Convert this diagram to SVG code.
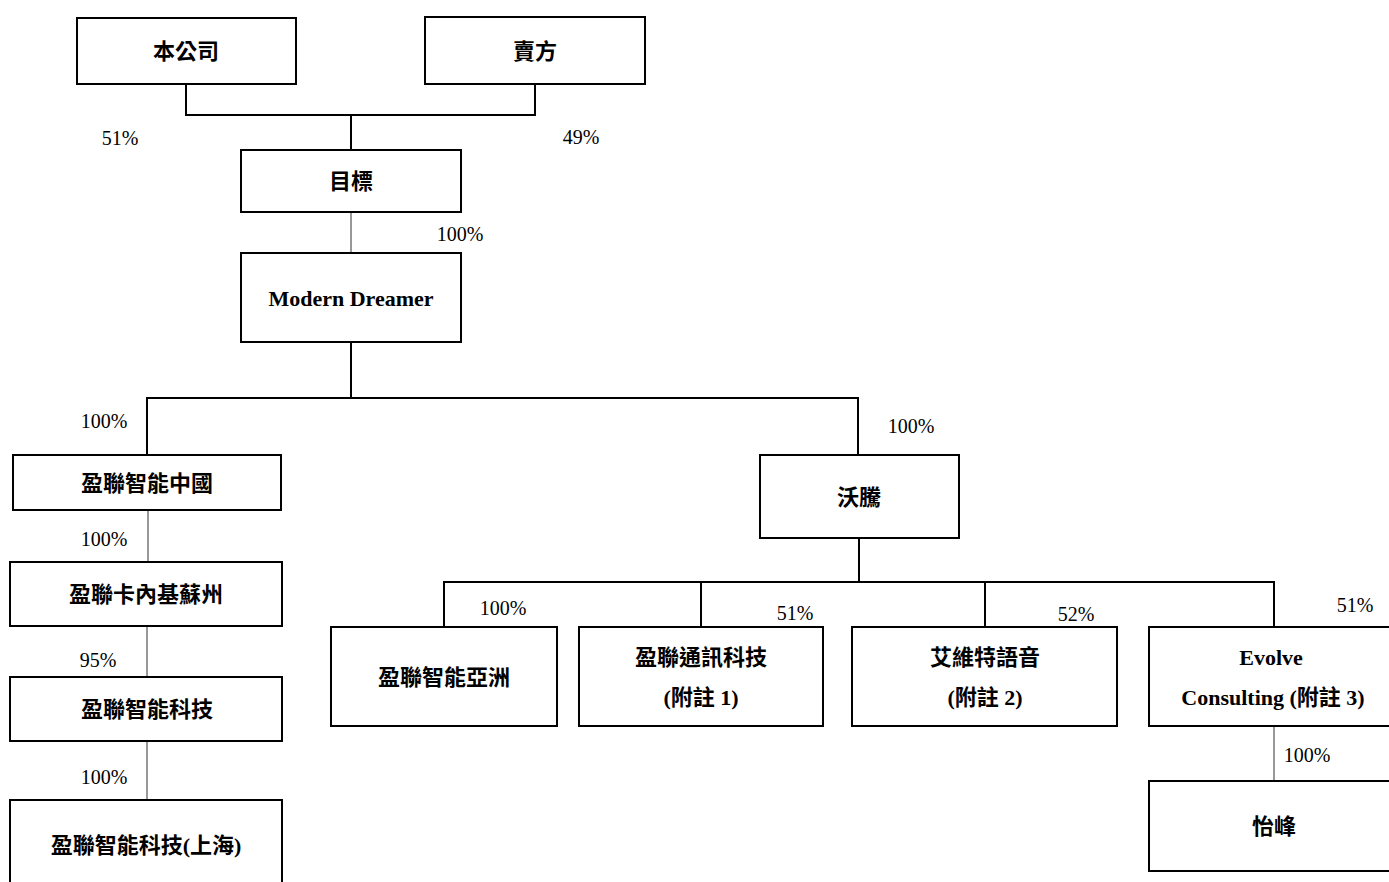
<svg xmlns="http://www.w3.org/2000/svg" width="1389" height="882" viewBox="0 0 1389 882">
<style>
.box{fill:#fff;stroke:#000;stroke-width:2}
.t{font-family:"Liberation Serif","Noto Sans CJK TC",serif;font-size:22px;font-weight:bold;text-anchor:middle;dominant-baseline:central;fill:#000}
.p{font-family:"Liberation Serif",serif;font-size:20px;text-anchor:middle;dominant-baseline:central;fill:#000}
.thick{stroke:#000;stroke-width:2;fill:none}
.thin{stroke:#333;stroke-width:1;fill:none}
</style>
<rect width="1389" height="882" fill="#fff"/>
<g id="connectors">
<path class="thick" d="M186 84V115H535V84M351 115V150"/>
<path class="thin" d="M351 212V253"/>
<path class="thick" d="M351 342V398M147 455V398H858V455"/>
<path class="thin" d="M148 510V562M147 626V677M147 741V800"/>
<path class="thick" d="M859 538V582M444 627V582H1274V627M701 582V627M985 582V627"/>
<path class="thin" d="M1274 726V781"/>
</g>
<g id="labels">
<text class="p" x="120" y="138">51%</text>
<text class="p" x="581" y="137">49%</text>
<text class="p" x="460" y="234">100%</text>
<text class="p" x="104" y="421">100%</text>
<text class="p" x="911" y="426">100%</text>
<text class="p" x="104" y="539">100%</text>
<text class="p" x="98" y="660">95%</text>
<text class="p" x="104" y="777">100%</text>
<text class="p" x="503" y="608">100%</text>
<text class="p" x="795" y="613">51%</text>
<text class="p" x="1076" y="614">52%</text>
<text class="p" x="1355" y="605">51%</text>
<text class="p" x="1307" y="755">100%</text>
</g>
<g id="n-company"><rect class="box" x="77" y="18" width="219" height="66"/><text class="t" x="186" y="51">本公司</text></g>
<g id="n-seller"><rect class="box" x="425" y="17" width="220" height="67"/><text class="t" x="535" y="51">賣方</text></g>
<g id="n-target"><rect class="box" x="241" y="150" width="220" height="62"/><text class="t" x="351" y="181">目標</text></g>
<g id="n-md"><rect class="box" x="241" y="253" width="220" height="89"/><text class="t" x="351" y="298">Modern Dreamer</text></g>
<g id="n-china"><rect class="box" x="13" y="455" width="268" height="55"/><text class="t" x="147" y="483">盈聯智能中國</text></g>
<g id="n-suzhou"><rect class="box" x="10" y="562" width="272" height="64"/><text class="t" x="146" y="594">盈聯卡內基蘇州</text></g>
<g id="n-tech"><rect class="box" x="10" y="677" width="272" height="64"/><text class="t" x="147" y="709">盈聯智能科技</text></g>
<g id="n-shanghai"><rect class="box" x="10" y="800" width="272" height="90"/><text class="t" x="146" y="845">盈聯智能科技(上海)</text></g>
<g id="n-woteng"><rect class="box" x="760" y="455" width="199" height="83"/><text class="t" x="859" y="497">沃騰</text></g>
<g id="n-asia"><rect class="box" x="331" y="627" width="226" height="99"/><text class="t" x="444" y="677">盈聯智能亞洲</text></g>
<g id="n-comm"><rect class="box" x="579" y="627" width="244" height="99"/><text class="t" x="701" y="657">盈聯通訊科技</text><text class="t" x="701" y="697">(附註 1)</text></g>
<g id="n-voice"><rect class="box" x="852" y="627" width="265" height="99"/><text class="t" x="985" y="657">艾維特語音</text><text class="t" x="985" y="697">(附註 2)</text></g>
<g id="n-evolve"><rect class="box" x="1149" y="627" width="250" height="99"/><text class="t" x="1271" y="657">Evolve</text><text class="t" x="1273" y="697">Consulting (附註 3)</text></g>
<g id="n-yifeng"><rect class="box" x="1149" y="781" width="250" height="90"/><text class="t" x="1274" y="826">怡峰</text></g>
</svg>
